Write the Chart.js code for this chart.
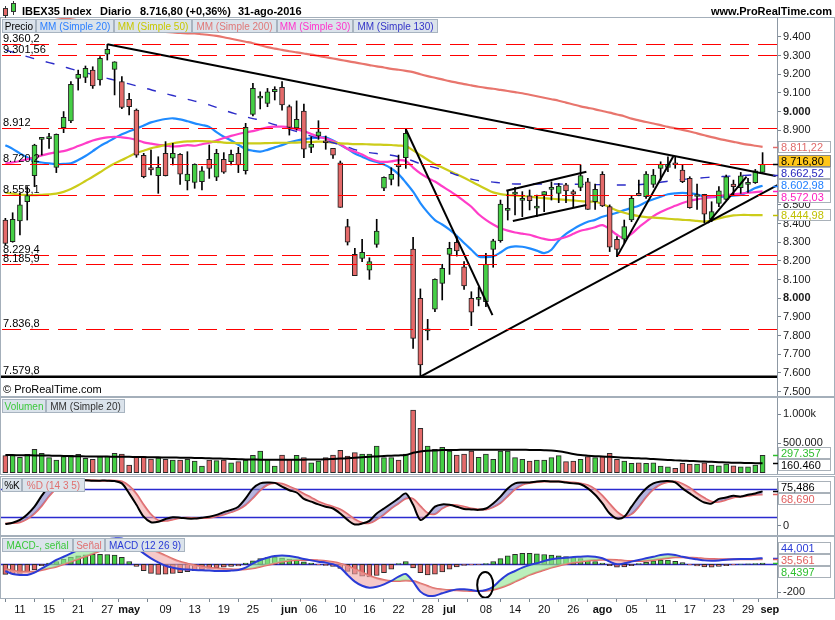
<!DOCTYPE html>
<html><head><meta charset="utf-8"><title>IBEX35 Index</title>
<script src="https://cdn.jsdelivr.net/npm/chart.js@4.4.1/dist/chart.umd.min.js"></script>
<style>
html,body{margin:0;padding:0;background:#fff;}
#root{position:relative;width:835px;height:620px;overflow:hidden;background:#fff;font-family:"Liberation Sans",Arial,sans-serif;}
canvas{position:absolute;left:0;}
.frame{position:absolute;left:0;width:835px;border:1px solid #a4afba;box-sizing:border-box;pointer-events:none;}
.lg{position:absolute;height:14px;line-height:13px;font-size:10px;background:#dbe3eb;border:1px solid #a8b4c0;box-sizing:border-box;text-align:center;white-space:nowrap;overflow:hidden;}
.hd{position:absolute;top:5px;font-size:11px;font-weight:bold;white-space:nowrap;color:#000;line-height:13px;}
.ic{position:absolute;box-sizing:border-box;}
</style></head>
<body><div id="root">
<canvas id="cPrice" width="835" height="378" style="top:18px;width:835px;height:378px"></canvas>
<canvas id="cVol" width="835" height="76" style="top:398px;width:835px;height:76px"></canvas>
<canvas id="cSto" width="835" height="57" style="top:478px;width:835px;height:57px"></canvas>
<canvas id="cMacd" width="835" height="83" style="top:537px;width:835px;height:83px"></canvas>

<div class="frame" style="top:17px;height:380px"></div>
<div class="frame" style="top:397px;height:78px"></div>
<div class="frame" style="top:476px;height:60px"></div>
<div class="frame" style="top:536px;height:63px"></div>

<div class="ic" style="left:5px;top:6px;width:1px;height:12px;background:#333"></div>
<div class="ic" style="left:3px;top:8px;width:5px;height:8px;background:#e46a6a;border:1px solid #333"></div>
<div class="ic" style="left:13px;top:1px;width:1px;height:14px;background:#333"></div>
<div class="ic" style="left:11px;top:3px;width:5px;height:9px;background:#45cf45;border:1px solid #333"></div>
<div class="hd" style="left:22px">IBEX35 Index</div>
<div class="hd" style="left:100px">Diario</div>
<div class="hd" style="left:140px">8.716,80 (+0,36%)</div>
<div class="hd" style="left:238px">31-ago-2016</div>
<div class="hd" style="right:3px">www.ProRealTime.com</div>

<div class="lg" style="left:2px;top:19px;width:34px;color:#000">Precio</div>
<div class="lg" style="left:36px;top:19px;width:78px;color:#2b7fff">MM (Simple 20)</div>
<div class="lg" style="left:114px;top:19px;width:78px;color:#c8c800">MM (Simple 50)</div>
<div class="lg" style="left:192px;top:19px;width:85px;color:#e07878">MM (Simple 200)</div>
<div class="lg" style="left:277px;top:19px;width:76px;color:#ff33cc">MM (Simple 30)</div>
<div class="lg" style="left:353px;top:19px;width:85px;color:#3434c8">MM (Simple 130)</div>
<div style="position:absolute;left:3px;top:383px;font-size:11px;color:#000;white-space:nowrap">© ProRealTime.com</div>

<div class="lg" style="left:2px;top:399px;width:44px;color:#3cc83c">Volumen</div>
<div class="lg" style="left:46px;top:399px;width:79px;color:#333">MM (Simple 20)</div>

<div class="lg" style="left:2px;top:478px;width:20px;color:#000">%K</div>
<div class="lg" style="left:22px;top:478px;width:63px;color:#e07070">%D (14 3 5)</div>

<div class="lg" style="left:2px;top:538px;width:71px;color:#3cc83c">MACD-, señal</div>
<div class="lg" style="left:73px;top:538px;width:32px;color:#e07070">Señal</div>
<div class="lg" style="left:105px;top:538px;width:80px;color:#2a3bd6">MACD (12 26 9)</div>
</div>

<script>
// ---------------- DATA ----------------
const open  = [8419,8303,8414,8518,8657,8851,8855,8701,8914,8950, 9178,9183,9222,9169,9308,9226,9160,9065,9008,8765, 8700,8657,8776,8750,8771,8628,8621,8624,8744,8648, 8744,8732,8776,8683,8985,9072,9044,9106,9130,9026, 8913,9003,8808,8869,8839,8803,8726,8384,8235,8214, 8151,8289,8589,8637,8714,8753,8264,7999,7825,7941, 8080,8235,8300,8169,7999,7994,7982,8262,8308,8471, 8558,8524,8548,8483,8553,8583,8562,8607,8571,8594, 8624,8517,8664,8491,8316,8316,8419,8562,8544,8610, 8696,8701,8719,8687,8642,8545,8557,8423,8508,8530, 8612,8592,8610,8619,8674];
const high  = [8428,8458,8562,8598,8825,8862,8883,8880,9000,9160, 9222,9244,9240,9294,9360,9267,9187,9097,9014,8776, 8794,8758,8839,8830,8775,8785,8720,8705,8821,8798, 8780,8794,8808,8937,9151,9106,9124,9133,9160,9035, 9057,9040,8865,8951,8869,8803,8735,8423,8267,8316, 8217,8423,8650,8699,8767,8905,8326,8050,7887,8104, 8182,8300,8330,8196,8035,8058,8240,8316,8526,8576, 8594,8571,8580,8553,8571,8624,8615,8615,8580,8714, 8642,8612,8678,8500,8330,8419,8550,8633,8678,8690, 8731,8758,8758,8714,8651,8612,8557,8517,8598,8660, 8633,8674,8642,8690,8780];
const low   = [8285,8300,8339,8419,8598,8767,8803,8673,8887,8940, 9115,9155,9124,9142,9276,9089,9015,8982,8755,8645, 8660,8562,8655,8714,8610,8580,8589,8580,8642,8630, 8669,8714,8673,8665,8976,9014,9026,9062,9008,8874, 8901,8753,8780,8851,8798,8749,8487,8285,8121,8196, 8101,8273,8576,8607,8601,8696,7732,7580,7777,7928, 7991,8128,8226,8048,7853,7959,7955,8166,8300,8419, 8446,8437,8473,8437,8464,8526,8512,8512,8490,8576, 8476,8476,8491,8250,8223,8294,8410,8549,8535,8594, 8633,8678,8696,8619,8482,8476,8405,8410,8490,8526, 8553,8562,8567,8615,8674];
const close = [8294,8423,8500,8550,8821,8862,8859,8878,8969,9146, 9199,9231,9137,9285,9333,9267,9022,9026,8767,8651, 8687,8701,8657,8776,8665,8665,8717,8682,8696,8776, 8675,8771,8714,8915,9124,9076,9106,9119,9035,8915, 8958,8798,8826,8892,8833,8767,8487,8300,8121,8246, 8196,8360,8648,8664,8705,8883,7785,7643,7835,8101, 8160,8267,8253,8066,7925,8004,8182,8307,8505,8475, 8564,8528,8523,8487,8571,8587,8601,8575,8557,8657, 8476,8583,8494,8273,8262,8384,8535,8549,8665,8660, 8717,8717,8715,8624,8485,8549,8450,8464,8576,8651, 8598,8656,8613,8683,8716.8];

const sma20  = [8820,8800,8776,8755,8735,8727,8722,8719,8720,8723, 8740,8762,8788,8815,8836,8858,8878,8895,8908,8925, 8942,8952,8960,8964,8958,8948,8937,8928,8918,8890, 8865,8845,8822,8800,8790,8785,8795,8808,8820,8835, 8845,8852,8857,8860,8862,8845,8822,8800,8775,8758, 8741,8730,8716,8695,8665,8620,8571,8510,8460,8419, 8395,8368,8335,8296,8260,8224,8220,8224,8245,8270, 8278,8276,8267,8255,8242,8260,8310,8345,8370,8392, 8410,8420,8437,8447,8458,8472,8484,8496,8515,8530, 8544,8557,8562,8564,8562,8557,8544,8542,8544,8546, 8550,8553,8570,8590,8602.98];
const sma50  = [8565,8560,8555,8553,8552,8554,8556,8560,8570,8585, 8605,8628,8651,8675,8700,8722,8740,8760,8778,8790, 8803,8812,8822,8830,8836,8840,8842,8842,8840,8838, 8834,8832,8831,8830,8830,8830,8831,8832,8833,8833, 8834,8836,8837,8839,8838,8834,8830,8828,8826,8826, 8824,8823,8822,8821,8818,8815,8792,8767,8742,8718, 8700,8682,8664,8645,8625,8605,8585,8567,8558,8553, 8550,8547,8545,8540,8536,8533,8530,8527,8524,8520, 8518,8517,8505,8488,8470,8458,8448,8440,8435,8432, 8429,8426,8423,8420,8418,8414,8411,8418,8428,8437, 8444,8446,8446,8445,8444.98];
const sma200 = [9545,9540,9535,9530,9524,9518,9512,9506,9500,9494, 9488,9482,9476,9470,9464,9458,9452,9447,9442,9437, 9433,9430,9427,9424,9421,9419,9418,9414,9410,9405, 9398,9390,9382,9374,9366,9356,9345,9337,9330,9323, 9317,9311,9305,9298,9291,9284,9277,9270,9263,9256, 9249,9242,9236,9229,9224,9218,9211,9200,9190,9181, 9172,9163,9155,9147,9140,9133,9127,9122,9116,9110, 9104,9098,9090,9082,9074,9066,9058,9048,9038,9028, 9020,9012,9003,8994,8984,8975,8962,8953,8944,8936, 8927,8918,8910,8902,8893,8883,8873,8863,8854,8846, 8838,8830,8823,8817,8811.22];
const sma30  = [8723,8728,8735,8745,8755,8765,8775,8782,8788,8800, 8815,8830,8845,8855,8862,8865,8862,8857,8848,8835, 8828,8822,8818,8813,8815,8820,8817,8825,8833,8845, 8858,8870,8880,8888,8895,8905,8915,8919,8919,8915, 8905,8895,8880,8865,8855,8842,8825,8800,8785,8770, 8750,8735,8730,8733,8740,8735,8700,8669,8645,8625, 8600,8575,8550,8520,8490,8450,8420,8395,8375,8362, 8352,8346,8340,8328,8318,8312,8318,8328,8345,8362, 8370,8380,8392,8370,8340,8322,8345,8380,8410,8440, 8462,8480,8495,8510,8522,8530,8536,8542,8548,8553, 8557,8561,8565,8568,8572.03];
const sma130 = [9330,9318,9306,9294,9283,9272,9262,9252,9240,9229, 9218,9208,9198,9188,9178,9168,9158,9148,9138,9127, 9117,9106,9096,9086,9076,9066,9056,9046,9036,9022, 9008,8995,8983,8972,8962,8954,8942,8930,8919,8905, 8893,8880,8868,8856,8844,8833,8822,8810,8796,8786, 8780,8775,8771,8766,8758,8748,8735,8720,8710,8700, 8688,8675,8660,8648,8638,8630,8626,8622,8618,8614, 8612,8612,8612,8612,8612,8612,8612,8611,8611,8610, 8610,8609,8608,8607,8607,8607,8607,8608,8612,8616, 8621,8627,8632,8636,8640,8643,8646,8649,8651,8653, 8655,8657,8659,8661,8662.52];

const volume = [290,290,262,313,399,331,256,216,273,296, 313,245,228,273,284,331,319,131,273,273, 233,250,228,216,216,228,199,114,216,205, 216,170,188,216,296,370,228,114,302,228, 296,256,170,199,256,302,381,284,342,319, 319,455,256,256,216,319,1068,757,455,399, 432,370,302,319,370,262,319,228,370,370, 256,228,199,216,216,256,290,188,199,228, 273,256,273,331,228,199,160,170,160,170, 114,102,75,160,148,148,170,131,119,148, 119,102,102,131,297.357];   // thousands
const volMA20 = [302,300,298,296,295,293,291,290, 285,282,280,278,276,275,274,273,272,270,268,266,264,262,260,258,256,254,252,250,246,242, 238,234,230,226,224,222,220,220,220,220,221,222,224,226,228, 234,240,248,256,264,270, 278,284,290,295,300, 340,362,375,380,385,388,388, 390,390,390,390,390,390,390,390,390,388,386,384,380, 365,345,320,300,290,282,276,270, 262,256,250,245,240, 232,225,218,210,205,200, 195,190,185,180,175,170, 168,165,162,160.46]; // thousands

const stochK = [4,7,13,25,42,66,86,95,100,100, 100,100,99,99,99,98,93,71,46,20, 8,9,15,19,18,16,16,18,20,24, 30,35,42,60,82,93,95,94,86,78, 73,59,53,47,42,38,27,13,3,5, 11,27,38,49,60,71,46,13,24,42, 47,46,42,37,36,35,38,49,64,82, 93,95,95,97,98,97,97,95,93,91, 82,68,49,27,16,20,42,64,82,93, 97,98,95,82,71,60,51,49,59,62, 66,64,68,71,75.486];
const stochD = [5,6,8,15,27,44,65,82,94,98, 100,100,100,99,99,99,97,87,70,46, 25,12,11,14,17,18,17,17,18,21, 25,30,36,46,61,78,90,94,92,86, 79,70,62,53,47,42,36,26,14,7, 6,14,25,38,49,60,59,43,28,26, 38,45,45,42,38,36,36,41,50,65, 80,90,94,96,97,97,97,96,95,93, 89,80,66,48,31,21,26,42,63,80, 91,96,97,92,83,71,61,53,53,57, 62,64,66,68,68.69];
const stochLevels = [80, 20];

const macdLine = [-48,-69,-76,-76,-60,-29,0,31,54,78, 102,126,150,166,178,185,185,162,119,78, 43,14,-10,-24,-34,-38,-41,-43,-45,-48, -48,-45,-41,-24,7,31,47,59,62,59, 50,38,28,19,12,0,-24,-76,-124,-153, -167,-160,-143,-119,-88,-69,-124,-195,-224,-224, -207,-191,-179,-179,-184,-191,-184,-160,-112,-72, -48,-24,-5,7,24,36,43,47,52,54, 57,54,43,19,0,7,19,31,43,54, 66,71,66,54,43,36,28,26,28,33, 36,38,38,40,44.001];
const macdSignal = [-34,-45,-53,-53,-53,-41,-29,-17,0,19, 38,57,76,95,114,131,145,150,145,131, 109,85,62,38,19,5,-7,-17,-24,-29, -34,-36,-38,-36,-29,-17,-5,7,19,26, 31,31,31,28,24,16,5,-12,-34,-57, -81,-100,-112,-119,-119,-115,-119,-136,-155,-172, -179,-184,-186,-188,-191,-191,-188,-181,-167,-148, -124,-100,-76,-57,-41,-24,-10,2,12,19, 26,31,33,33,31,26,24,24,26,31, 38,45,50,50,47,45,40,38,36,36, 36,36,36,36,35.561];
const macdHist = [-72,-68,-65,-55,-40,-10,8,20,35,50, 60,68,72,71,70,65,50,20,-15,-45, -65,-72,-70,-66,-60,-52,-45,-38,-30,-25, -20,-15,-12,8,25,40,48,50,45,38, 28,18,8,-5,-8,-15,-30,-50,-70,-85, -90,-80,-60,-35,5,20,-25,-60,-75,-70, -55,-35,-18,-8,-5,-3,5,20,40,60, 72,78,78,75,70,65,60,55,48,40, 30,20,8,-10,-20,-18,-10,5,15,25, 30,30,22,12,-5,-12,-18,-20,-15,-10, -5,2,4,6,8.4397];
const macdZero = [0];
const macdEllipse = [65.9, -147, 1.1, 92]; // centre index, centre value, half-width (bars), half-height (value)

const priceTicks = [7500,7600,7700,7800,7900,8000,8100,8200,8300,8400,8500,8600,8700,8800,8900,9000,9100,9200,9300,9400];
const volTicks = [500000, 1000000];
const stochTicks = [0];
const macdTicks = [-200];

const levelValues = [9360.2, 9301.56, 8912, 8720.2, 8555.1, 8229.4, 8185.9, 7836.8];
const levelLabels = ['9.360,2','9.301,56','8.912','8.720,2','8.555,1','8.229,4','8.185,9','7.836,8'];
const supportValue = 7579.8;
const supportLabel = '7.579,8';

// trend lines: [[barIndex, price], [barIndex, price]]
const trendLines = [
  [[14, 9360.2], [105.8, 8655]],
  [[55, 8905], [66.9, 7910]],
  [[57, 7580], [106.1, 8607]],
  [[84, 8223], [91.8, 8765]],
  [[96.5, 8404], [101.8, 8651]],
  [[68.8, 8576], [79.8, 8678]],
  [[69.7, 8414], [79.8, 8499]]
];

const xTickIdx    = [2,6,10,14,17,22,26,30,34,39,42,46,50,54,58,61,66,70,74,78,82,86,90,94,98,102,105];
const xTickLabels = ['11','15','21','27','may','09','13','19','25','jun','06','10','16','22','28','jul','08','14','20','26','ago','05','11','17','23','29','sep'];

// ---------------- HELPERS ----------------
const FONT = '"Liberation Sans", Arial, sans-serif';
const GREEN = '#45cf45', RED = '#e46a6a', EDGE = '#1e1e1e';
const X_MIN = -0.6, X_MAX = 105.98;
const N = close.length;
const idx = close.map((_, i) => i);
const isUp = i => close[i] >= open[i];
const pts = arr => arr.map((v, i) => ({x: i, y: v}));

function esNum(v, d) {
  const s = Math.abs(v).toFixed(d).split('.');
  const a = s[0].replace(/\B(?=(\d{3})+(?!\d))/g, '.');
  return (v < 0 ? '-' : '') + (s[1] ? a + ',' + s[1] : a);
}

function xScale(show) {
  return {
    type: 'linear', min: X_MIN, max: X_MAX, offset: false, display: show,
    grid: {display: show, drawOnChartArea: false, drawTicks: true, tickLength: 4, color: '#7a8590'},
    border: {display: false},
    afterBuildTicks(s) { s.ticks = xTickIdx.map(v => ({value: v})); },
    afterFit(s) { if (show) { s.height = 22; } s.paddingLeft = 0; s.paddingRight = 0; },
    ticks: {
      autoSkip: false, maxRotation: 0, minRotation: 0, padding: 1, color: '#111',
      font: c => ({family: FONT, size: 11, weight: /[a-z]/.test(xTickLabels[c.index] || '') ? 'bold' : 'normal'}),
      callback: (v, i) => xTickLabels[i]
    }
  };
}
function yScale(min, max, ticks, fmt, boldFn) {
  return {
    type: 'linear', position: 'right', min: min, max: max,
    afterBuildTicks(s) { s.ticks = ticks.map(v => ({value: v})); },
    afterFit(s) { s.width = 58; s.paddingTop = 0; s.paddingBottom = 0; },
    grid: {drawOnChartArea: false, drawTicks: true, tickLength: 4, color: '#7a8590'},
    border: {display: true, color: '#8d98a3', width: 1},
    ticks: {
      padding: 2, color: '#1a1a1a', autoSkip: false,
      font: c => ({family: FONT, size: 11, weight: (boldFn && c.tick && boldFn(c.tick.value)) ? 'bold' : 'normal'}),
      callback: v => fmt(v)
    }
  };
}
function baseOptions(xShow, y) {
  return {
    responsive: false, animation: false, events: [],
    layout: {padding: {left: 1, right: 0, top: 0, bottom: 0}},
    plugins: {legend: {display: false}, tooltip: {enabled: false}},
    scales: {x: xScale(xShow), y: y}
  };
}

function makeBoxes(items) {
  return {
    id: 'valueBoxes',
    afterDraw(chart) {
      const y = chart.scales.y, ctx = chart.ctx, h = 12;
      const arr = items.map(it => Object.assign({}, it, {py: y.getPixelForValue(it.value)})).sort((a, b) => a.py - b.py);
      const pos = arr.map(a => a.py);
      for (let k = 0; k < 80; k++) for (let j = 1; j < pos.length; j++) {
        const d = pos[j] - pos[j - 1];
        if (d < h) { const s = (h - d) / 2; pos[j - 1] -= s; pos[j] += s; }
      }
      const x0 = chart.chartArea.right;
      ctx.save();
      ctx.font = '11px ' + FONT; ctx.textBaseline = 'middle'; ctx.textAlign = 'left';
      arr.forEach((a, j) => {
        const my = Math.round(a.py) + 0.5;
        ctx.strokeStyle = a.mark || a.color; ctx.lineWidth = 1.5;
        ctx.beginPath(); ctx.moveTo(x0 - 4, my); ctx.lineTo(x0 + 1, my); ctx.stroke();
        const top = Math.round(pos[j] - h / 2);
        ctx.fillStyle = a.bg || '#fff'; ctx.fillRect(x0 + 1, top, 53, h);
        ctx.strokeStyle = a.border || '#a9b1b9'; ctx.lineWidth = 1; ctx.strokeRect(x0 + 1.5, top + 0.5, 52, h - 1);
        ctx.fillStyle = a.color; ctx.fillText(a.text, x0 + 4, top + h / 2 + 0.5);
      });
      ctx.restore();
    }
  };
}
function makeHLines(values, color, width) {
  return {
    id: 'hLines',
    beforeDatasetsDraw(chart) {
      const {ctx, chartArea: a, scales: {y}} = chart;
      ctx.save(); ctx.strokeStyle = color; ctx.lineWidth = width;
      values.forEach(v => {
        const py = Math.round(y.getPixelForValue(v)) + 0.5;
        ctx.beginPath(); ctx.moveTo(a.left, py); ctx.lineTo(a.right, py); ctx.stroke();
      });
      ctx.restore();
    }
  };
}
const levelsPlugin = {
  id: 'levels',
  afterDatasetsDraw(chart) {
    const {ctx, chartArea: a, scales: {y}} = chart;
    ctx.save();
    ctx.beginPath(); ctx.rect(a.left, a.top, a.right - a.left, a.bottom - a.top); ctx.clip();
    ctx.strokeStyle = '#ff0000'; ctx.lineWidth = 1; ctx.setLineDash([19, 9]);
    levelValues.forEach(v => {
      const py = Math.round(y.getPixelForValue(v)) + 0.5;
      ctx.beginPath(); ctx.moveTo(a.left + 1, py); ctx.lineTo(a.right, py); ctx.stroke();
    });
    ctx.setLineDash([]);
    const sy = y.getPixelForValue(supportValue);
    ctx.strokeStyle = '#000'; ctx.lineWidth = 2.5;
    ctx.beginPath(); ctx.moveTo(a.left, sy); ctx.lineTo(a.right, sy); ctx.stroke();
    ctx.font = '11px ' + FONT; ctx.fillStyle = '#000'; ctx.textBaseline = 'alphabetic'; ctx.textAlign = 'left';
    levelValues.forEach((v, k) => ctx.fillText(levelLabels[k], a.left + 2, y.getPixelForValue(v) - 2));
    ctx.fillText(supportLabel, a.left + 2, sy - 3);
    ctx.restore();
  }
};
const ellipsePlugin = {
  id: 'ellipse',
  afterDatasetsDraw(chart) {
    const {ctx, chartArea: a, scales: {x, y}} = chart;
    const cx = x.getPixelForValue(macdEllipse[0]), cy = y.getPixelForValue(macdEllipse[1]);
    const rx = Math.abs(x.getPixelForValue(macdEllipse[0] + macdEllipse[2]) - cx);
    const ry = Math.abs(y.getPixelForValue(macdEllipse[1] + macdEllipse[3]) - cy);
    ctx.save();
    ctx.beginPath(); ctx.rect(a.left, a.top, a.right - a.left, a.bottom - a.top); ctx.clip();
    ctx.beginPath(); ctx.ellipse(cx, cy, rx, ry, 0, 0, Math.PI * 2);
    ctx.strokeStyle = '#000'; ctx.lineWidth = 2; ctx.stroke();
    ctx.restore();
  }
};

// ---------------- PRICE ----------------
const maDefs = [
  {data: sma200, color: '#e8756d', width: 2.2, dash: []},
  {data: sma130, color: '#2b2bc8', width: 1.4, dash: [9, 12]},
  {data: sma50,  color: '#cccc1a', width: 2.2, dash: []},
  {data: sma30,  color: '#ff3dc8', width: 2.2, dash: []},
  {data: sma20,  color: '#1f8bff', width: 2.2, dash: []}
];
const priceDatasets = [];
trendLines.forEach(t => priceDatasets.push({
  type: 'line', data: t.map(p => ({x: p[0], y: p[1]})), borderColor: '#000', borderWidth: 2,
  pointRadius: 0, order: 0, clip: 0
}));
priceDatasets.push({
  type: 'bar', data: idx.map(i => ({x: i, y: [open[i], close[i]]})),
  backgroundColor: c => isUp(c.dataIndex) ? GREEN : RED, borderColor: EDGE, borderWidth: 1,
  borderSkipped: false, barThickness: 5, minBarLength: 2, grouped: false, order: 1
});
priceDatasets.push({
  type: 'bar', data: idx.map(i => ({x: i, y: [low[i], high[i]]})),
  backgroundColor: '#000', borderWidth: 0, barThickness: 1, grouped: false, order: 2
});
maDefs.forEach((m, k) => priceDatasets.push({
  type: 'line', data: pts(m.data), borderColor: m.color, borderWidth: m.width, borderDash: m.dash,
  pointRadius: 0, tension: 0.3, order: 3 + k
}));
new Chart(document.getElementById('cPrice'), {
  type: 'bar',
  data: {datasets: priceDatasets},
  options: baseOptions(false, yScale(7476.5, 9501.1, priceTicks, v => esNum(v / 1000, 3).replace(',', '.'), v => v % 1000 === 0)),
  plugins: [levelsPlugin, makeBoxes([
    {value: sma200[N - 1], text: esNum(sma200[N - 1], 2), color: '#e06c6c'},
    {value: close[N - 1],  text: esNum(close[N - 1], 2),  color: '#000', bg: '#ffc61a', border: '#8a8a8a'},
    {value: sma130[N - 1], text: esNum(sma130[N - 1], 2), color: '#2828c0'},
    {value: sma20[N - 1],  text: esNum(sma20[N - 1], 2),  color: '#1f7fff'},
    {value: sma30[N - 1],  text: esNum(sma30[N - 1], 2),  color: '#ff20c0'},
    {value: sma50[N - 1],  text: esNum(sma50[N - 1], 2),  color: '#c0c000'}
  ])]
});

// ---------------- VOLUME ----------------
new Chart(document.getElementById('cVol'), {
  type: 'bar',
  data: {datasets: [
    {type: 'line', data: pts(volMA20.map(v => v * 1000)), borderColor: '#000', borderWidth: 2, pointRadius: 0, tension: 0.3, order: 0},
    {type: 'bar', data: pts(volume.map(v => v * 1000)), backgroundColor: c => isUp(c.dataIndex) ? GREEN : RED,
     borderColor: '#2a2a2a', borderWidth: 1, borderSkipped: false, barThickness: 5, grouped: false, order: 1}
  ]},
  options: baseOptions(false, yScale(-22100, 1272600, volTicks, v => v >= 1e6 ? esNum(v / 1000, 0) + 'k' : esNum(v, 0))),
  plugins: [makeBoxes([
    {value: volume[N - 1] * 1000, text: esNum(volume[N - 1] * 1000, 0), color: '#2fbf2f'},
    {value: volMA20[N - 1] * 1000, text: esNum(volMA20[N - 1] * 1000, 0), color: '#000'}
  ])]
});

// ---------------- STOCHASTIC ----------------
new Chart(document.getElementById('cSto'), {
  type: 'line',
  data: {datasets: [
    {data: pts(stochK), borderColor: '#000', borderWidth: 2, pointRadius: 0, tension: 0.3,
     fill: {target: 1, above: 'rgba(130,130,200,0.6)', below: 'rgba(240,160,160,0.55)'}},
    {data: pts(stochD), borderColor: '#e46a6a', borderWidth: 2, pointRadius: 0, tension: 0.3}
  ]},
  options: baseOptions(false, yScale(-20, 104.75, stochTicks, v => String(v))),
  plugins: [makeHLines(stochLevels, '#2a2acf', 1.3), makeBoxes([
    {value: stochK[N - 1], text: esNum(stochK[N - 1], 3), color: '#000'},
    {value: stochD[N - 1], text: esNum(stochD[N - 1], 3), color: '#e06060'}
  ])]
});

// ---------------- MACD ----------------
new Chart(document.getElementById('cMacd'), {
  type: 'bar',
  data: {datasets: [
    {type: 'line', data: pts(macdLine), borderColor: '#2a3bd6', borderWidth: 2, pointRadius: 0, tension: 0.3, order: 0,
     fill: {target: 2, above: 'rgba(150,230,150,0.65)', below: 'rgba(240,165,165,0.6)'}},
    {type: 'bar', data: pts(macdHist), backgroundColor: c => macdHist[c.dataIndex] >= 0 ? GREEN : RED,
     borderColor: '#2a2a2a', borderWidth: 1, borderSkipped: false, barThickness: 5, grouped: false, order: 2},
    {type: 'line', data: pts(macdSignal), borderColor: '#e46a6a', borderWidth: 2, pointRadius: 0, tension: 0.3, order: 1}
  ]},
  options: baseOptions(true, yScale(-240.6, 194.9, macdTicks, v => String(v))),
  plugins: [makeHLines(macdZero, '#2a2acf', 1.3), ellipsePlugin, makeBoxes([
    {value: macdLine[N - 1], text: esNum(macdLine[N - 1], 3), color: '#2a3bd6'},
    {value: macdSignal[N - 1], text: esNum(macdSignal[N - 1], 3), color: '#e06060'},
    {value: macdHist[N - 1], text: esNum(macdHist[N - 1], 4), color: '#2fbf2f'}
  ])]
});
</script>
</body></html>
